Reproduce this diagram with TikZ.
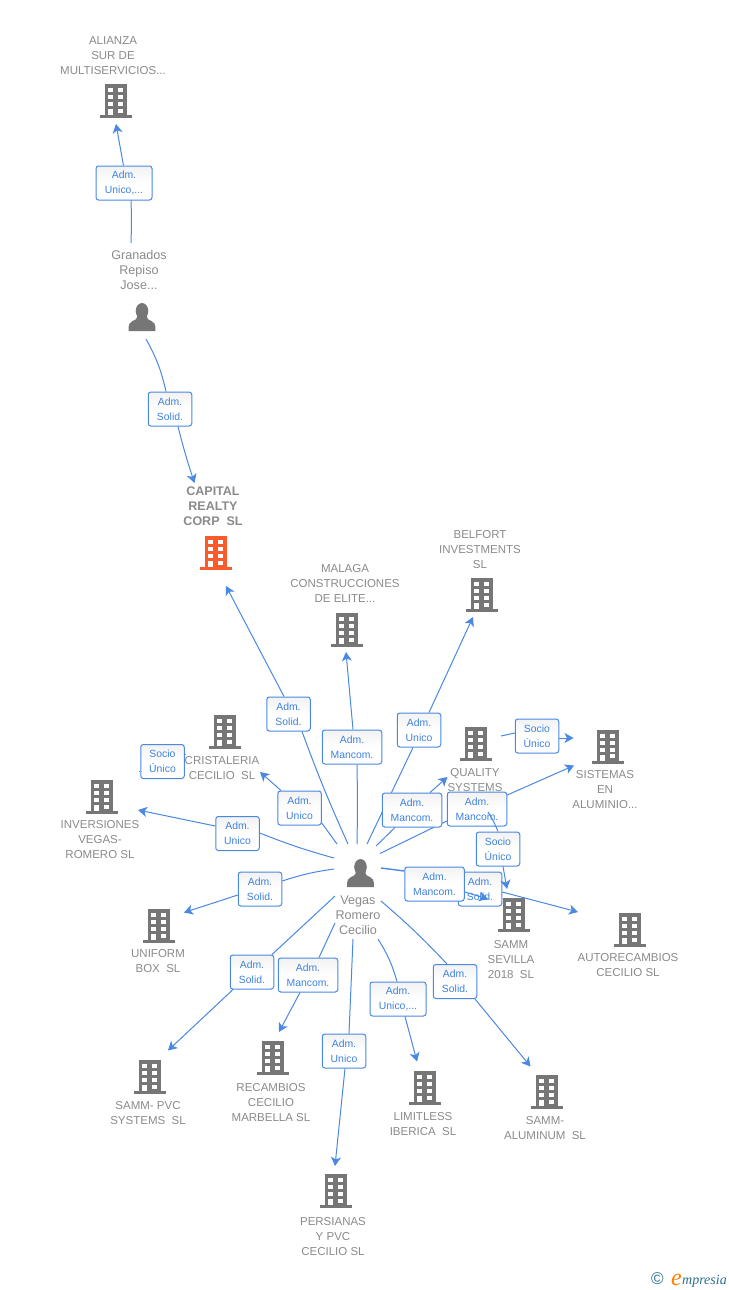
\documentclass[tikz,border=0pt]{standalone}
\usepackage{fontspec}
\setmainfont{Liberation Sans}
\newfontfamily\logofont{Liberation Serif}
\usetikzlibrary{arrows.meta}
\pgfdeclarelayer{edges}
\pgfsetlayers{edges,main}
\definecolor{ico}{HTML}{767676}
\definecolor{txt}{HTML}{8A8A8A}
\definecolor{lnk}{HTML}{4A88E2}
\definecolor{ltx}{HTML}{3D82E0}
\definecolor{org}{HTML}{FB5A2B}
\definecolor{teal}{HTML}{2A6F8F}
\tikzset{
  ent/.style={font=\fontsize{11.5}{15}\selectfont,text=txt,align=center,inner sep=0pt},
  entb/.style={ent,font=\fontsize{12.5}{15}\selectfont\bfseries},
  entp/.style={ent,font=\fontsize{12.6}{15}\selectfont},
  lab/.style={draw=lnk,line width=1pt,rounded corners=2.6pt,top color=black!5,bottom color=white,middle color=white,
    font=\fontsize{10.4}{15}\selectfont,text=ltx,align=center,inner sep=0pt,minimum height=34pt,
    execute at begin node={\vspace*{2pt}}},
  lw/.style={lab,minimum width=43.5pt},
  lm/.style={lab,minimum width=59.5pt},
  lu/.style={lab,minimum width=56pt},
  conn/.style={draw=lnk,line width=1pt},
  arr/.style={conn,-{Stealth[length=9pt,width=10pt,inset=2.5pt]}},
  pics/bldg/.style={code={
    \fill[#1] (-11,0) rectangle (11,31);
    \fill[#1] (-16,31) rectangle (16,34);
    \foreach \ya in {4,11,18}{
      \fill[white] (-7.7,\ya) rectangle (-2.7,\ya+4);
      \fill[white] (2.3,\ya) rectangle (7.3,\ya+4);}
    \fill[white] (-7.7,25) rectangle (-2.7,31);
    \fill[white] (2.3,24.5) rectangle (7.3,28.5);
  }},
  pics/pers/.style={code={
    \fill[ico] (0,0) ellipse[x radius=6.3,y radius=8] ;
    \fill[ico] (-5,4) -- (-5,6.5) .. controls (-5,8) and (-7,9) .. (-9.5,10)
      .. controls (-12.5,11) and (-13.5,13) .. (-13.5,20) -- (13.5,20)
      .. controls (13.5,13) and (12.5,11) .. (9.5,10)
      .. controls (7,9) and (5,8) .. (5,6.5) -- (5,4) -- cycle;
  }},
}
\begin{document}
\begin{tikzpicture}[x=1pt,y=-1pt]
\useasboundingbox (0,0) rectangle (728,1290);

% icons
\pic at (116,84) {bldg=ico};
\pic at (216,536) {bldg=org};
\pic at (347,613) {bldg=ico};
\pic at (482,578) {bldg=ico};
\pic at (225,715) {bldg=ico};
\pic at (476,727) {bldg=ico};
\pic at (608,729.5) {bldg=ico};
\pic at (102,780) {bldg=ico};
\pic at (159,909) {bldg=ico};
\pic at (514,898) {bldg=ico};
\pic at (630,913) {bldg=ico};
\pic at (150,1060) {bldg=ico};
\pic at (273,1041) {bldg=ico};
\pic at (425,1071) {bldg=ico};
\pic at (547,1075) {bldg=ico};
\pic at (336,1174) {bldg=ico};
\pic at (142,311) {pers};
\pic at (360.5,867) {pers};

% entity names
\node[ent] (n1) at (113,55.5) {ALIANZA\\SUR DE\\MULTISERVICIOS...};
\node[entp] (n2) at (139,270) {Granados\\Repiso\\Jose...};
\node[entb] (n3) at (213,506.5) {CAPITAL\\REALTY\\CORP\ \ SL};
\node[ent] (n4) at (345,583.5) {MALAGA\\CONSTRUCCIONES\\DE ELITE...};
\node[ent] (n5) at (480,549.5) {BELFORT\\INVESTMENTS\\SL};
\node[ent] (n6) at (222,768.5) {CRISTALERIA\\CECILIO\ \ SL};
\node[ent] (n7) at (475,780.5) {QUALITY\\SYSTEMS};
\node[ent] (n8) at (605,790) {SISTEMAS\\EN\\ALUMINIO...};
\node[ent] (n9) at (100,840) {INVERSIONES\\VEGAS-\\ROMERO SL};
\node[ent] (n10) at (158,961.5) {UNIFORM\\BOX\ \ SL};
\node[ent] (n11) at (511,959.5) {SAMM\\SEVILLA\\2018\ \ SL};
\node[ent] (n12) at (628,965.5) {AUTORECAMBIOS\\CECILIO SL};
\node[ent] (n13) at (148,1113.5) {SAMM- PVC\\SYSTEMS\ \ SL};
\node[ent] (n14) at (271,1102.5) {RECAMBIOS\\CECILIO\\MARBELLA SL};
\node[ent] (n15) at (423,1124.5) {LIMITLESS\\IBERICA\ \ SL};
\node[ent] (n16) at (545,1128.5) {SAMM-\\ALUMINUM\ \ SL};
\node[ent] (n17) at (333,1236.5) {PERSIANAS\\Y PVC\\CECILIO SL};
\node[entp] (n18) at (358,915) {Vegas\\Romero\\Cecilio};

% relation labels
\node[lu,minimum width=56pt] (l1) at (124,183) {Adm.\\Unico,...};
\node[lw] (l2) at (170,409) {Adm.\\Solid.};
\node[lw] (l3) at (288.5,714) {Adm.\\Solid.};
\node[lm] (l4) at (352,747) {Adm.\\Mancom.};
\node[lw] (l5) at (419,730) {Adm.\\Unico};
\node[lw] (l6) at (299.5,808) {Adm.\\Unico};
\node[lw] (l7) at (237.5,833.5) {Adm.\\Unico};
\node[lw] (l8) at (260,889) {Adm.\\Solid.};
\node[lw] (l9) at (252,972) {Adm.\\Solid.};
\node[lm] (l10) at (308,975) {Adm.\\Mancom.};
\node[lw] (l11) at (344,1051) {Adm.\\Unico};
\node[lu] (l12) at (398,999) {Adm.\\Unico,...};
\node[lw] (l13) at (455,981.5) {Adm.\\Solid.};
\node[lw] (l14) at (480,889) {Adm.\\Solid.};
\node[lm] (l15) at (434.5,884) {Adm.\\Mancom.};
\node[lm] (l16) at (412,810) {Adm.\\Mancom.};
\node[lm] (l17) at (477,809) {Adm.\\Mancom.};
\node[lw] (l18) at (537,736) {Socio\\Único};
\node[lw] (l19) at (498,849) {Socio\\Único};
\node[lw] (l20) at (162.5,761.5) {Socio\\Único};

% free ends of the connectors
\coordinate (s1) at (131,243);
\coordinate (t1) at (116,124);
\coordinate (s2) at (146,339);
\coordinate (t2) at (194.5,483);
\coordinate (s3) at (348,844);
\coordinate (t3) at (226,586);
\coordinate (s4) at (357,844);
\coordinate (t4) at (346,652);
\coordinate (s5) at (367,844);
\coordinate (t5) at (473,617);
\coordinate (s6) at (337,844);
\coordinate (t6) at (260,772);
\coordinate (s7) at (334,858);
\coordinate (t7) at (138,810);
\coordinate (s8) at (334,869);
\coordinate (t8) at (184,912.5);
\coordinate (s9) at (335,896);
\coordinate (t9) at (168,1050.5);
\coordinate (s10) at (335,923);
\coordinate (t10) at (279,1032);
\coordinate (s11) at (353,939);
\coordinate (t11) at (335,1166);
\coordinate (s12) at (378,939);
\coordinate (t12) at (417,1061.5);
\coordinate (s13) at (381,901);
\coordinate (t13) at (530.5,1066.5);
\coordinate (s14) at (381,868);
\coordinate (t14) at (578,912);
\coordinate (t15) at (488,899);
\coordinate (s16) at (376,846);
\coordinate (t16) at (447.5,777);
\coordinate (s17) at (380,853.5);
\coordinate (t17) at (574,765.5);
\coordinate (s18) at (501,736);
\coordinate (t18) at (573.5,738);
\coordinate (s19) at (488,812);
\coordinate (t19) at (507,889);
\coordinate (e20a) at (186,754);
\coordinate (e20b) at (139,771);

\begin{pgfonlayer}{edges}
\draw[conn] (s1) to[bend right=2] ([xshift=7]l1.south);
\draw[arr] ([xshift=-0.5]l1.north) -- (t1);
\draw[conn] (s2) to[bend left=8] ([xshift=-4]l2.north);
\draw[arr] ([xshift=8]l2.south) to[bend right=2] (t2);
\draw[conn] (s3) to[bend left=2] ([xshift=13.5]l3.south);
\draw[arr] ([xshift=-4.5]l3.north) -- (t3);
\draw[conn] (s4) to[bend right=1] ([xshift=5]l4.south);
\draw[arr] ([xshift=1]l4.north) -- (t4);
\draw[conn] (s5) -- ([xshift=-6]l5.south);
\draw[arr] ([xshift=10]l5.north) -- (t5);
\draw[conn] (s6) -- ([yshift=-15]l6.east);
\draw[arr] ([xshift=-18.5]l6.north) -- (t6);
\draw[conn] (s7) to[bend left=3] ([yshift=0.5]l7.east);
\draw[arr] ([yshift=7.5]l7.west) -- (t7);
\draw[conn] (s8) to[bend right=5] ([yshift=8]l8.east);
\draw[arr] ([yshift=-6]l8.west) -- (t8);
\draw[conn] (s9) -- ([xshift=20]l9.north);
\draw[arr] ([xshift=-19]l9.south) -- (t9);
\draw[conn] (s10) -- ([xshift=11]l10.north);
\draw[arr] ([xshift=-8]l10.south) -- (t10);
\draw[conn] (s11) -- ([xshift=5]l11.north);
\draw[arr] ([xshift=1]l11.south) -- (t11);
\draw[conn] (s12) to[bend left=8] ([xshift=-1]l12.north);
\draw[arr] ([xshift=7]l12.south) -- (t12);
\draw[conn] (s13) to[bend left=3] ([xshift=-8]l13.north);
\draw[arr] ([xshift=20]l13.south) -- (t13);
\draw[conn,line width=1.4pt] (s14) -- ([yshift=13]l15.west);
\draw[conn] (s16) -- ([xshift=-17]l16.south);
\draw[arr] ([xshift=18]l16.north) -- (t16);
\draw[conn] (s17) -- ([yshift=-12]l17.west);
\draw[arr] ([yshift=14]l17.east) -- (t17);
\draw[conn] (s18) -- ([yshift=3]l18.west);
\draw[arr] ([yshift=-2]l18.east) -- (t18);
\draw[conn] (l20.east|-e20a) -- (e20a);
\draw[conn] (l20.west|-e20b) -- (e20b);
\end{pgfonlayer}

% connectors that run over the labels
\draw[arr] ([yshift=-3]l14.east) -- (t14);
\draw[arr] ([yshift=-8]l15.east) -- (t15);
\draw[conn] (s19) to[bend left=5] ([xshift=0]l19.north);
\draw[arr] ([xshift=5]l19.south) -- (t19);

% logo
\node[inner sep=0pt,text=teal,font=\fontsize{17}{17}\selectfont] (c) at (657.5,1279) {©};
\node[inner sep=0pt,anchor=base west] (e) at (671,1285) {\logofont\itshape\fontsize{24}{24}\selectfont\color{orange}e};
\node[inner sep=0pt,anchor=base west] (w) at (682,1284) {\logofont\itshape\fontsize{14}{14}\selectfont\color{teal}mpresia};
\end{tikzpicture}
\end{document}
